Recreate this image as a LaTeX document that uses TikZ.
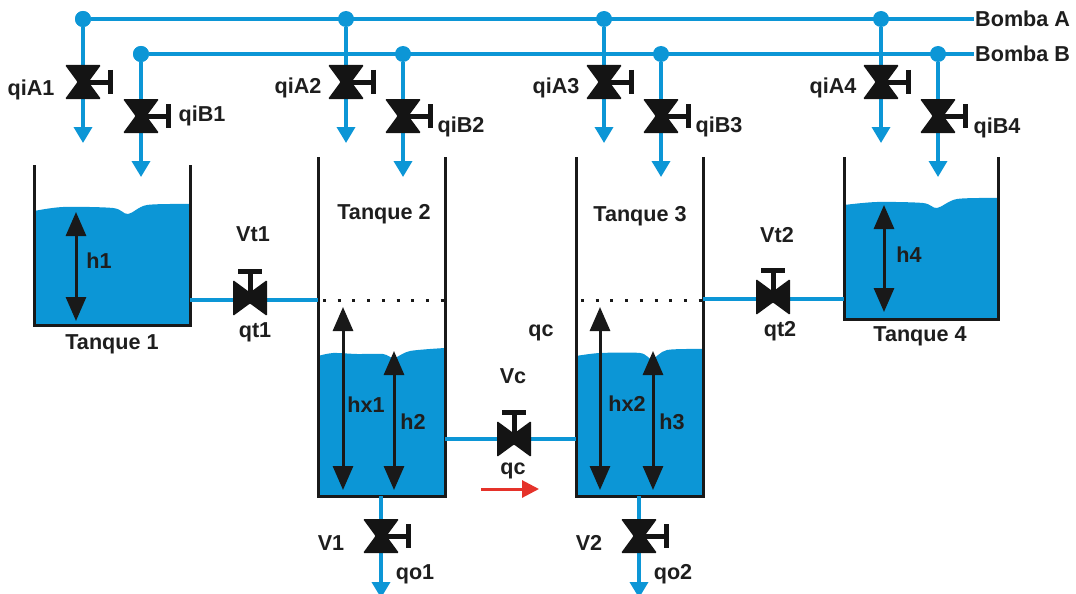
\documentclass[tikz,border=0pt]{standalone}
\usepackage{fontspec}
\setmainfont{Liberation Sans}
\usetikzlibrary{arrows.meta}
\definecolor{aguablue}{HTML}{0C96D6}
\definecolor{labelgray}{HTML}{1E1E1E}
\definecolor{flowred}{HTML}{E5322A}
\tikzset{
	pipe/.style={line width=3.5pt, aguablue},
	wall/.style={line width=3pt, black!90, line join=miter},
	lbl/.style={text=labelgray, inner sep=1pt, font=\fontsize{21.6}{25}\selectfont\bfseries},
	junction/.style={circle, fill=aguablue, minimum size=16pt, inner sep=0pt},
	bluetip/.style={-{Triangle[length=16pt,width=18pt]}},
	levelarrow/.style={line width=3pt, black!90, {Triangle[length=24pt,width=20pt]}-{Triangle[length=24pt,width=20pt]}},
	valve/.pic={
		\fill[black!92, rounded corners=1.2pt] (-18,-17) -- (18,-17) -- (5.5,0) -- (18,17) -- (-18,17) -- (-5.5,0) -- cycle;
		\draw[line width=5pt, black!92] (0,0) -- (27,0);
		\draw[line width=5pt, black!92] (27,-12) -- (27,12);
	},
}
\begin{document}
\begin{tikzpicture}[x=1pt, y=-1pt]
		\useasboundingbox (0,0) rectangle (1076,594);
		
		% Water
		\fill[aguablue] plot[smooth] coordinates {(34,211) (63,207) (113,208) (128,214) (147,205) (190,204)} -- (190,325) -- (34,325) -- cycle;
		\fill[aguablue] plot[smooth] coordinates {(318,356) (333,353) (357,354) (383,354) (394,358) (410,351) (445,348)} -- (445,496) -- (318,496) -- cycle;
		\fill[aguablue] plot[smooth] coordinates {(576,356) (600,353) (640,353) (652,359) (667,350) (703,349)} -- (703,496) -- (576,496) -- cycle;
		\fill[aguablue] plot[smooth] coordinates {(844,205) (877,202) (923,203) (937,208) (957,199) (998,198)} -- (998,319) -- (844,319) -- cycle;
		
		% Pump labels and main lines
		\node[lbl, anchor=west] (bombaA) at (974,19) {Bomba A};
		\node[lbl, anchor=west] (bombaB) at (974,54) {Bomba B};
		\node[junction] (dotA1) at (83,19) {};
		\node[junction] (dotB1) at (141,54) {};
		\draw[pipe] (dotA1) -- (bombaA);
		\draw[pipe] (dotB1) -- (bombaB);
		
		% Inlet valves
		\foreach \idx/\xa/\xb/\la/\ya/\lb/\yb in {1/83/141/31/90/202/116, 2/346/403/298/88/461/127, 3/604/661/556/88/719/127, 4/881/938/833/88/997/128} {
			\node[junction] (dotA\idx) at (\xa,19) {};
			\node[junction] (dotB\idx) at (\xb,54) {};
			\coordinate (tipA\idx) at (\xa,143);
			\coordinate (tipB\idx) at (\xb,177);
			\draw[pipe, bluetip] (dotA\idx) -- (tipA\idx);
			\draw[pipe, bluetip] (dotB\idx) -- (tipB\idx);
			\pic at (\xa,82) {valve};
			\pic at (\xb,116) {valve};
			\node[lbl] (qiA\idx) at (\la,\ya) {qiA\idx};
			\node[lbl] (qiB\idx) at (\lb,\yb) {qiB\idx};
		}
		
		% Tanks
		\draw[wall] (34,165) -- (34,325) -- (190,325) -- (190,165);
		\draw[wall] (318,157) -- (318,496) -- (445,496) -- (445,157);
		\draw[wall] (576,157) -- (576,496) -- (703,496) -- (703,157);
		\draw[wall] (844,157) -- (844,319) -- (998,319) -- (998,157);
		\draw[line width=3pt, black!90, dash pattern=on 3pt off 11.7pt] (323,300) -- (445,300);
		\draw[line width=3pt, black!90, dash pattern=on 3pt off 11.7pt] (581,300) -- (703,300);
		
		% Links between tanks
		\coordinate (t1out) at (190,300);
		\coordinate (t2in) at (318,300);
		\coordinate (t2out) at (445,439);
		\coordinate (t3in) at (576,439);
		\coordinate (t3out) at (703,299);
		\coordinate (t4in) at (844,299);
		\draw[pipe] (t1out) -- (t2in);
		\draw[pipe] (t2out) -- (t3in);
		\draw[pipe] (t3out) -- (t4in);
		\pic[rotate=90] at (250,298) {valve};
		\pic[rotate=90] at (514,439) {valve};
		\pic[rotate=90] at (773,297) {valve};
		
		% Outlets
		\coordinate (t2bot) at (381,496);
		\coordinate (t3bot) at (639,496);
		\coordinate (out1) at (381,598);
		\coordinate (out2) at (639,598);
		\draw[pipe, bluetip] (t2bot) -- (out1);
		\draw[pipe, bluetip] (t3bot) -- (out2);
		\pic at (381,536) {valve};
		\pic at (639,536) {valve};
		
		% Levels
		\draw[levelarrow] (76,212) -- (76,321);
		\draw[levelarrow] (343,307) -- (343,490);
		\draw[levelarrow] (394,351) -- (394,490);
		\draw[levelarrow] (600,307) -- (600,490);
		\draw[levelarrow] (653,351) -- (653,490);
		\draw[levelarrow] (884,205) -- (884,312);
		
		% Flow between tanks 2 and 3
		\coordinate (qcstart) at (481,489);
		\coordinate (qcend) at (539,489);
		\draw[line width=3pt, flowred, -{Triangle[length=17pt,width=17pt]}] (qcstart) -- (qcend);
		
		% Labels
		\node[lbl] (tanque1) at (112,344) {Tanque 1};
		\node[lbl] (tanque2) at (384,214) {Tanque 2};
		\node[lbl] (tanque3) at (640,216) {Tanque 3};
		\node[lbl] (tanque4) at (920,336) {Tanque 4};
		\node[lbl] (h1) at (99,261) {h1};
		\node[lbl] (h4) at (909,255) {h4};
		\node[lbl] (hx1) at (366,405) {hx1};
		\node[lbl] (h2) at (413,422) {h2};
		\node[lbl] (hx2) at (627,404) {hx2};
		\node[lbl] (h3) at (672,422) {h3};
		\node[lbl] (vt1) at (253,234) {Vt1};
		\node[lbl] (qt1) at (255,332) {qt1};
		\node[lbl] (vt2) at (777,235) {Vt2};
		\node[lbl] (qt2) at (780,331) {qt2};
		\node[lbl] (qcup) at (541,333) {qc};
		\node[lbl] (vc) at (513,376) {Vc};
		\node[lbl] (qc) at (513,471) {qc};
		\node[lbl] (v1) at (331,543) {V1};
		\node[lbl] (v2) at (589,543) {V2};
		\node[lbl] (qo1) at (415,574) {qo1};
		\node[lbl] (qo2) at (673,574) {qo2};
	\end{tikzpicture}
\end{document}
